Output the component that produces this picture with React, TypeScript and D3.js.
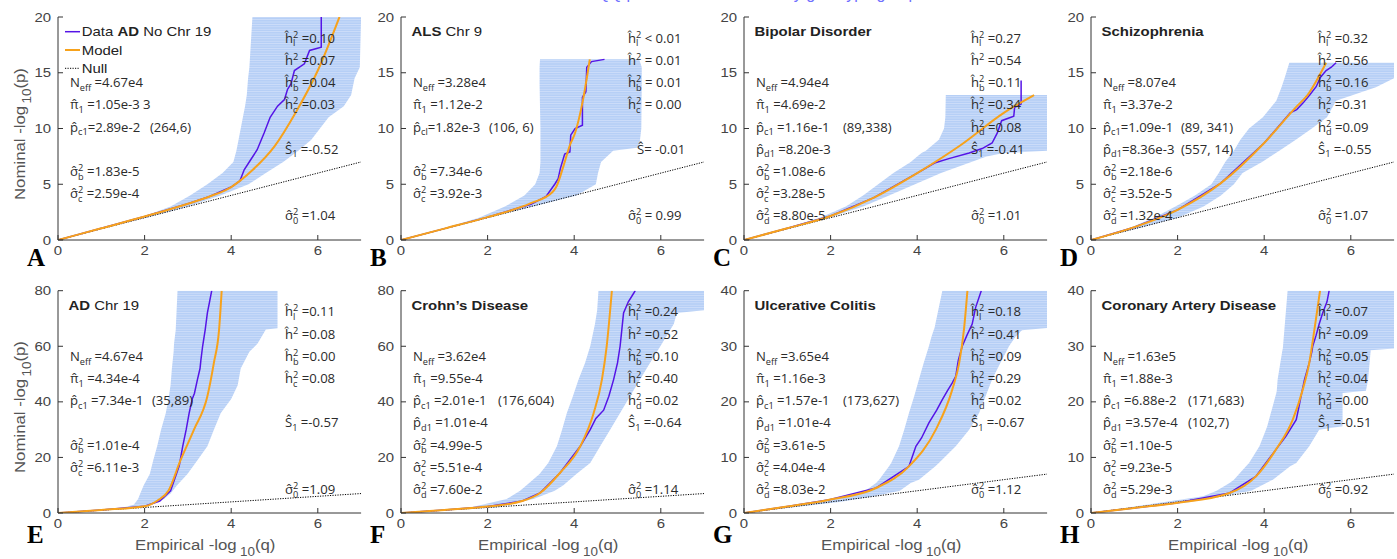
import React from 'react';
import * as d3 from 'd3';

// band rows: [y, left x, right x]; lines: [x, y]
const bandA = [[0,0,0],[1,0.95,1.0],[2,1.9,2.05],[3,2.6,3.0],[4,3.05,3.75],[5,3.45,4.4],[6,3.8,4.8],[7,4.05,5.2],[8,4.12,5.55],[9,4.17,5.85],[10,4.22,6.05],[11,4.27,6.25],[12,4.32,6.6],[13,4.36,6.77],[14.5,4.39,6.85],[15.5,4.42,6.97],[20,4.49,7]];
const dataA = [[0,0],[1,1.05],[2,2.1],[3,3.25],[3.5,3.9],[4,4.75],[4.2,5.3],[4.3,6.3],[4.45,7.2],[4.6,8.1],[4.76,9.6],[4.9,11],[5.07,12],[5.23,12.6],[5.3,13.5],[5.38,14],[5.46,15.2],[5.69,15.8],[5.81,17],[6.08,17.3],[6.08,21]];
const modelA = [[0,0],[1,1.05],[2,2.1],[3,3.25],[3.5,3.9],[4,4.75],[4.2,5.3],[4.5,6.3],[5,8.4],[5.5,11.5],[6,15.2],[6.5,20]];

const bandB = [[0,0,0],[1,0.95,1.02],[2,1.8,2.02],[3,2.4,3.05],[4,2.85,4.05],[5,3.1,4.5],[6,3.2,4.55],[7,3.22,4.62],[8,3.22,4.9],[8.3,3.22,5.5],[10,3.22,5.55],[14,3.2,5.56],[15.5,3.2,5.56],[16.2,3.21,5.5]];
const dataB = [[0,0],[1,1.02],[2,2.05],[3,3.2],[3.35,3.9],[3.55,5.0],[3.63,5.5],[3.68,6.4],[3.78,7.7],[3.9,7.9],[3.92,9.4],[4.02,10.0],[4.19,10.3],[4.19,12.8],[4.27,13.3],[4.29,15.5],[4.4,16.0],[4.7,16.2]];
const modelB = [[0,0],[1,1.02],[2,2.05],[3,3.3],[3.5,4.3],[3.59,4.8],[3.75,6.6],[3.9,8.5],[4.02,9.6],[4.2,12.5],[4.36,16.2]];

const bandC = [[0,0,0],[1,0.92,1.0],[2,1.75,1.95],[3,2.35,2.75],[4,2.75,3.35],[5,3.1,3.95],[6,3.45,4.55],[7,3.85,5.25],[7.5,4.0,5.6],[7.8,4.1,6.0],[8,4.2,7],[9,4.5,7],[10,4.62,7],[11,4.65,7],[13,4.66,7]];
const dataC = [[0,0],[1,1.05],[2,2.15],[3,3.8],[4,6.0],[4.4,6.9],[4.73,7.3],[5.2,7.8],[5.5,8.2],[5.73,8.7],[5.85,9.6],[5.95,10.7],[6.23,11.1],[6.25,11.9],[6.4,12.2],[6.4,14.3]];
const modelC = [[0,0],[1,1.05],[2,2.15],[3,3.8],[4,6.0],[5,8.5],[6,11.4],[6.7,13.0]];

const bandD = [[0,0,0],[1,0.85,1.05],[2,1.45,2.0],[3,1.95,2.6],[4,2.4,3.0],[5,2.78,3.3],[6,2.95,3.5],[7,3.1,3.95],[8,3.3,4.35],[9,3.45,4.73],[10,3.65,5.1],[11,3.97,5.45],[12.5,4.28,5.66],[13.7,4.4,6.58],[14.5,4.47,7],[15.9,4.58,7]];
const dataD = [[0,0],[1,1.15],[2,2.7],[3,5.1],[4,8.7],[4.6,11.4],[4.75,11.7],[4.9,12.3],[5.05,13],[5.2,13.75],[5.3,14.6],[5.43,15.2],[5.55,15.5],[5.66,15.9]];
const modelD = [[0,0],[1,1.15],[2,2.7],[3,5.1],[4,8.7],[4.73,11.9],[5,13.0],[5.43,15.9]];

const bandE = [[0,0,0],[2,1.5,1.95],[3,1.75,2.15],[5,1.85,2.45],[7,1.9,2.6],[10,1.98,2.75],[14,2.12,2.99],[19,2.2,3.22],[24,2.29,3.45],[30,2.38,3.6],[36,2.49,3.76],[41,2.55,4.0],[46,2.6,4.15],[52,2.63,4.22],[58,2.67,4.42],[61,2.68,4.61],[66,2.72,4.8],[66.5,2.72,5.07],[80,2.76,5.07]];
const dataE = [[0,0],[1,1.1],[2,2.4],[2.35,4.3],[2.6,8],[2.8,17],[2.88,24],[2.96,30],[3.03,36],[3.1,41],[3.15,43],[3.22,48],[3.28,52],[3.3,55],[3.34,60],[3.4,66],[3.45,72],[3.5,76],[3.55,80]];
const modelE = [[0,0],[1,1.1],[2,2.4],[2.3,4.5],[2.55,8],[2.83,19],[3.14,30],[3.45,42],[3.6,54],[3.72,66],[3.78,80]];

const bandF = [[0,0,0],[2,1.6,2.2],[5,2.44,3.06],[8,2.75,3.55],[10,2.9,3.75],[14,3.2,4.05],[18,3.4,4.37],[24,3.6,4.6],[30,3.72,4.83],[36,3.83,5.06],[42,3.97,5.29],[48,4.1,5.52],[54,4.25,5.75],[60,4.37,5.99],[68,4.48,6.3],[72,4.52,6.37],[73,4.53,7],[80,4.56,7]];
const dataF = [[0,0],[1,1.1],[2,2.3],[2.8,4.3],[3.21,7.2],[3.67,14.4],[4.14,24],[4.37,30],[4.5,34],[4.68,37],[4.8,42],[4.91,48],[5.0,54],[5.06,60],[5.1,66],[5.14,72],[5.25,76],[5.37,79],[5.41,80]];
const modelF = [[0,0],[1,1.1],[2,2.3],[2.8,4.3],[3.21,7.2],[3.67,14.4],[4.14,24],[4.45,36],[4.64,48],[4.75,60],[4.87,80]];

const bandG = [[0,0,0],[2,1.7,2.2],[3,2.43,3.0],[4,2.8,3.6],[5.4,3.05,3.85],[6,3.12,4.04],[8.4,3.35,4.42],[9,3.4,4.5],[12,3.58,4.89],[15,3.7,5.2],[18,3.81,5.43],[21,3.93,5.58],[24,4.04,5.73],[27,4.15,5.92],[30,4.27,6.12],[31.7,4.33,6.27],[32.9,4.38,6.42],[33.3,4.4,7],[40,4.58,7]];
const dataG = [[0,0],[1,1.15],[1.97,2.4],[3.05,4.5],[3.81,8.4],[3.97,12],[4.1,13.5],[4.27,16.2],[4.45,18.5],[4.58,20.4],[4.7,22],[4.81,23.4],[4.89,24.6],[4.95,27.5],[5.04,30],[5.15,32],[5.27,34],[5.35,37],[5.48,40]];
const modelG = [[0,0],[1,1.15],[1.97,2.4],[3.05,4.5],[3.81,8.4],[4.43,15],[4.81,22.2],[4.97,27],[5.08,33],[5.16,40]];

const bandH = [[0,0,0],[2,1.7,2.3],[3,2.59,3.0],[4,2.9,3.7],[5.4,3.2,4.05],[6,3.3,4.2],[8.4,3.58,4.6],[9,3.65,4.74],[12,3.89,5.04],[15,4.04,5.27],[15.6,4.07,5.81],[21.6,4.28,5.81],[22,4.29,6.35],[24,4.31,6.4],[29.3,4.42,6.46],[29.6,4.43,7],[40,4.54,7]];
const dataH = [[0,0],[1,0.92],[1.97,1.8],[3.2,3.6],[3.81,6.6],[4.27,11.4],[4.5,13.8],[4.74,16.8],[4.8,19],[4.85,21],[4.93,24],[5.04,27],[5.1,29],[5.12,30],[5.2,32],[5.27,34],[5.35,36],[5.45,38],[5.5,40]];
const modelH = [[0,0],[1,0.92],[1.97,1.8],[3.2,3.6],[3.81,6.6],[4.27,11.4],[4.66,16.8],[4.89,22.2],[5.04,27],[5.16,33],[5.29,40]];

const nullLine = [[0,0],[7,7]];

const panelIds = ['A','B','C','D','E','F','G','H'];
const yMaxes = [20,20,20,20,80,80,40,40];
const yTicksTop = [0,5,10,15,20];
const yTicksEF = [0,20,40,60,80];
const yTicksGH = [0,10,20,30,40];
const xTicks = [0,2,4,6];
const titles = [['',''],['ALS',' Chr 9'],['Bipolar Disorder',''],['Schizophrenia',''],['AD',' Chr 19'],['Crohn\u2019s Disease',''],['Ulcerative Colitis',''],['Coronary Artery Disease','']];

const H = 'h\u0302', PI = '\u03c0\u0302', P = 'p\u0302', SG = '\u03c3\u0302', S = '\u015c';
// [column (0 left,1 right), row, base, sup, sub, rest, paren, dx]
const annA = [[1,0,H,'2','l',' =0.10'],[1,1,H,'2','',' =0.07'],[1,2,H,'2','b',' =0.04'],[1,3,H,'2','c',' =0.03'],[1,5,S,'','1',' =-0.52'],[1,8,SG,'2','0',' =1.04'],
  [0,2,'N','','eff',' =4.67e4'],[0,3,PI,'','1',' =1.05e-3 3'],[0,4,P,'','c1','=2.89e-2','(264,6)'],[0,6,SG,'2','b',' =1.83e-5'],[0,7,SG,'2','c',' =2.59e-4']];
const annB = [[1,0,H,'2','l',' < 0.01'],[1,1,H,'2','',' = 0.01'],[1,2,H,'2','b',' = 0.01'],[1,3,H,'2','c',' = 0.00'],[1,5,S,'','','= -0.01','',9],[1,8,SG,'2','0',' = 0.99'],
  [0,2,'N','','eff',' =3.28e4'],[0,3,PI,'','1',' =1.12e-2'],[0,4,P,'','cl','=1.82e-3','(106, 6)'],[0,6,SG,'2','b',' =7.34e-6'],[0,7,SG,'2','c',' =3.92e-3']];
const annC = [[1,0,H,'2','l',' =0.27'],[1,1,H,'2','',' =0.54'],[1,2,H,'2','b',' =0.11'],[1,3,H,'2','c',' =0.34'],[1,4,H,'2','d',' =0.08'],[1,5,S,'','1',' =-0.41'],[1,8,SG,'2','0',' =1.01'],
  [0,2,'N','','eff',' =4.94e4'],[0,3,PI,'','1',' =4.69e-2'],[0,4,P,'','c1',' =1.16e-1','(89,338)'],[0,5,P,'','d1',' =8.20e-3'],[0,6,SG,'2','b',' =1.08e-6'],[0,7,SG,'2','c',' =3.28e-5'],[0,8,SG,'2','d',' =8.80e-5']];
const annD = [[1,0,H,'2','l',' =0.32'],[1,1,H,'2','',' =0.56'],[1,2,H,'2','b',' =0.16'],[1,3,H,'2','c',' =0.31'],[1,4,H,'2','d',' =0.09'],[1,5,S,'','1',' =-0.55'],[1,8,SG,'2','0',' =1.07'],
  [0,2,'N','','eff',' =8.07e4'],[0,3,PI,'','1',' =3.37e-2'],[0,4,P,'','c1','=1.09e-1','(89, 341)'],[0,5,P,'','d1','=8.36e-3','(557, 14)'],[0,6,SG,'2','b',' =2.18e-6'],[0,7,SG,'2','c',' =3.52e-5'],[0,8,SG,'2','d',' =1.32e-4']];
const annE = [[1,0,H,'2','l',' =0.11'],[1,1,H,'2','',' =0.08'],[1,2,H,'2','b',' =0.00'],[1,3,H,'2','c',' =0.08'],[1,5,S,'','1',' =-0.57'],[1,8,SG,'2','0',' =1.09'],
  [0,2,'N','','eff',' =4.67e4'],[0,3,PI,'','1',' =4.34e-4'],[0,4,P,'','c1',' =7.34e-1','(35,89)'],[0,6,SG,'2','b',' =1.01e-4'],[0,7,SG,'2','c',' =6.11e-3']];
const annF = [[1,0,H,'2','l',' =0.24'],[1,1,H,'2','',' =0.52'],[1,2,H,'2','b',' =0.10'],[1,3,H,'2','c',' =0.40'],[1,4,H,'2','d',' =0.02'],[1,5,S,'','1',' =-0.64'],[1,8,SG,'2','0',' =1.14'],
  [0,2,'N','','eff',' =3.62e4'],[0,3,PI,'','1',' =9.55e-4'],[0,4,P,'','c1',' =2.01e-1','(176,604)'],[0,5,P,'','d1',' =1.01e-4'],[0,6,SG,'2','b',' =4.99e-5'],[0,7,SG,'2','c',' =5.51e-4'],[0,8,SG,'2','d',' =7.60e-2']];
const annG = [[1,0,H,'2','l',' =0.18'],[1,1,H,'2','',' =0.41'],[1,2,H,'2','b',' =0.09'],[1,3,H,'2','c',' =0.29'],[1,4,H,'2','d',' =0.02'],[1,5,S,'','1',' =-0.67'],[1,8,SG,'2','0',' =1.12'],
  [0,2,'N','','eff',' =3.65e4'],[0,3,PI,'','1',' =1.16e-3'],[0,4,P,'','c1',' =1.57e-1','(173,627)'],[0,5,P,'','d1',' =1.01e-4'],[0,6,SG,'2','b',' =3.61e-5'],[0,7,SG,'2','c',' =4.04e-4'],[0,8,SG,'2','d',' =8.03e-2']];
const annH = [[1,0,H,'2','l',' =0.07'],[1,1,H,'2','',' =0.09'],[1,2,H,'2','b',' =0.05'],[1,3,H,'2','c',' =0.04'],[1,4,H,'2','d',' =0.00'],[1,5,S,'','1',' =-0.51'],[1,8,SG,'2','0',' =0.92'],
  [0,2,'N','','eff',' =1.63e5'],[0,3,PI,'','1',' =1.88e-3'],[0,4,P,'','c1',' =6.88e-2','(171,683)'],[0,5,P,'','d1',' =3.57e-4','(102,7)'],[0,6,SG,'2','b',' =1.10e-5'],[0,7,SG,'2','c',' =9.23e-5'],[0,8,SG,'2','d',' =5.29e-3']];

const bands = [bandA, bandB, bandC, bandD, bandE, bandF, bandG, bandH];
const datas = [dataA, dataB, dataC, dataD, dataE, dataF, dataG, dataH];
const models = [modelA, modelB, modelC, modelD, modelE, modelF, modelG, modelH];
const anns = [annA, annB, annC, annD, annE, annF, annG, annH];

// layout
const COL_X0 = [58, 401, 744, 1091];
const ROWS = [{ top: 17, bottom: 240 }, { top: 290.7, bottom: 513 }];
const UNIT = 43.3;
const PAREN_DX = [92, 88, 99, 90, 94, 97, 99, 97];
const SANS = 'Liberation Sans, Arial, sans-serif';
const ANN_FONT = 'Open Sans, sans-serif';
const ANN_SIZE = 12.5;
const SX = 1.15;

const CW: Record<string, number> = { '2': 0.57, '0': 0.57, '1': 0.57, l: 0.26, b: 0.61, c: 0.48, d: 0.61, e: 0.56, f: 0.32 };

function Ann({ x, y, base, sup, sub, rest }: any) {
  const s = ANN_SIZE * 0.7;
  const w = (t: string) => t.split('').reduce((a, c) => a + (CW[c] ?? 0.56), 0) * s;
  const supW = w(sup), subW = w(sub);
  const up = ANN_SIZE * 0.4, down = ANN_SIZE * 0.3;
  const parts: any[] = [<tspan key="b">{base}</tspan>];
  let off = 0;
  if (sup) { parts.push(<tspan key="p" fontSize={s} dy={-up}>{sup}</tspan>); off = -up; }
  if (sub) { parts.push(<tspan key="s" fontSize={s} dx={sup ? -supW : 0} dy={down - off}>{sub}</tspan>); off = down; }
  const extra = sup && sub ? Math.max(0, supW - subW) : 0;
  parts.push(<tspan key="r" dx={extra} dy={-off}>{rest}</tspan>);
  return (
    <text transform={`translate(${x},${y}) scale(1.05,1)`} fontFamily={ANN_FONT} fontSize={ANN_SIZE} fill="#2b2b2b">{parts}</text>
  );
}

function Panel({ i }: { i: number }) {
  const col = i % 4, row = Math.floor(i / 4);
  const { top, bottom } = ROWS[row];
  const x0 = COL_X0[col];
  const x = d3.scaleLinear().domain([0, 7]).range([x0, x0 + 7 * UNIT]);
  const y = d3.scaleLinear().domain([0, yMaxes[i]]).range([bottom, top]);
  const yTicks = row === 0 ? yTicksTop : (i < 6 ? yTicksEF : yTicksGH);
  const line = d3.line<number[]>().x(d => x(d[0])).y(d => y(d[1]));
  const smooth = d3.line<number[]>().x(d => x(d[0])).y(d => y(d[1])).curve(d3.curveMonotoneX);
  const area = d3.area<number[]>().y(d => y(d[0])).x0(d => x(d[1])).x1(d => x(d[2]));
  const id = panelIds[i];
  const rowY = (r: number) => top + 25.7 + 22.2 * r;
  const [tb, tn] = titles[i];
  return (
    <g>
      <clipPath id={`clip-${id}`}>
        <rect x={x0} y={top} width={7 * UNIT} height={bottom - top} />
      </clipPath>
      <g clipPath={`url(#clip-${id})`}>
        <path d={area(bands[i]) || ''} fill="url(#bandFill)" />
        <path d={line(nullLine) || ''} fill="none" stroke="#000" strokeWidth={1} strokeDasharray="1.2 1.3" />
        <path d={line(datas[i]) || ''} fill="none" stroke="#5514e6" strokeWidth={1.5} />
        <path d={smooth(models[i]) || ''} fill="none" stroke="#f7a21b" strokeWidth={2} />
      </g>
      {/* axes */}
      <line x1={x0} x2={x0} y1={top} y2={bottom} stroke="#333" strokeWidth={1} />
      <line x1={x0} x2={x0 + 7 * UNIT} y1={bottom} y2={bottom} stroke="#333" strokeWidth={1} />
      {yTicks.map(t => (
        <g key={`y${t}`}>
          <line x1={x0} x2={x0 + 5} y1={y(t)} y2={y(t)} stroke="#333" />
          <text transform={`translate(${x0 - 7},${y(t) + 4.5}) scale(${SX},1)`} textAnchor="end" fontFamily={SANS} fontSize={13} fill="#444">{t}</text>
        </g>
      ))}
      {xTicks.map(t => (
        <g key={`x${t}`}>
          <line x1={x(t)} x2={x(t)} y1={bottom} y2={bottom - 5} stroke="#333" />
          <text transform={`translate(${x(t)},${bottom + 15}) scale(${SX},1)`} textAnchor="middle" fontFamily={SANS} fontSize={13} fill="#444">{t}</text>
        </g>
      ))}
      {/* panel letter */}
      <text x={x0 - 31} y={row === 0 ? 266 : 543} fontFamily="Liberation Serif, serif" fontWeight="bold" fontSize={25} fill="#000">{id}</text>
      {(tb || tn) && (
        <text transform={`translate(${x0 + 10.5},${top + 18.8}) scale(${SX},1)`} fontFamily={SANS} fontSize={13} fill="#222">
          <tspan fontWeight="bold">{tb}</tspan><tspan>{tn}</tspan>
        </text>
      )}
      {anns[i].map((a: any, k: number) => {
        const [c, r, base, sup, sub, rest, paren, dx] = a;
        const ax = x0 + (c === 0 ? 12 : 227) + (dx || 0);
        return (
          <g key={k}>
            <Ann x={ax} y={rowY(r)} base={base} sup={sup} sub={sub} rest={rest} />
            {paren && (
              <text transform={`translate(${x0 + PAREN_DX[i]},${rowY(r)}) scale(1.05,1)`} fontFamily={ANN_FONT} fontSize={ANN_SIZE} fill="#2b2b2b">{paren}</text>
            )}
          </g>
        );
      })}
      {row === 1 && (
        <text transform={`translate(${x0 + 77},550) scale(1.12,1)`} fontFamily={SANS} fontSize={15} fill="#555">
          Empirical -log<tspan dx={3} dy={6} fontSize={12}>10</tspan><tspan dy={-6}>(q)</tspan>
        </text>
      )}
      {col === 0 && (
        <text transform={`translate(24.5,${bottom - 40}) rotate(-90) scale(1.12,1)`} fontFamily={SANS} fontSize={15} fill="#555">
          Nominal -log<tspan dx={2} dy={6} fontSize={12}>10</tspan><tspan dy={-6}>(p)</tspan>
        </text>
      )}
    </g>
  );
}

function Legend() {
  const items = [
    { label: ['Data ', 'AD', ' No Chr 19'], color: '#5514e6', w: 1.5, dash: '' },
    { label: ['Model', '', ''], color: '#f7a21b', w: 2, dash: '' },
    { label: ['Null', '', ''], color: '#000', w: 1, dash: '1.2 1.3' },
  ];
  return (
    <g>
      {items.map((it, k) => (
        <g key={k}>
          <line x1={65} x2={80} y1={31.7 + 18.3 * k} y2={31.7 + 18.3 * k} stroke={it.color} strokeWidth={it.w} strokeDasharray={it.dash || undefined} />
          <text transform={`translate(81.7,${36.3 + 18.3 * k}) scale(${SX},1)`} fontFamily={SANS} fontSize={13} fill="#222">
            <tspan>{it.label[0]}</tspan><tspan fontWeight="bold">{it.label[1]}</tspan><tspan>{it.label[2]}</tspan>
          </text>
        </g>
      ))}
    </g>
  );
}

export default function App() {
  return (
    <div>
      <style>{'body{margin:0}'}</style>
      <svg width={1397} height={559} style={{ display: 'block', background: '#fff' }}>
        <defs>
          <pattern id="bandFill" width={8} height={2.4} patternUnits="userSpaceOnUse">
            <rect width={8} height={2.4} fill="#b6cff6" />
            <rect width={8} height={0.7} fill="#d2e1fa" />
          </pattern>
        </defs>
        <text x={715} y={-1} textAnchor="middle" fontFamily={SANS} fontSize={16} fill="#6f6fff">Conditional QQ plots with fitted model by genotype group</text>
        {panelIds.map((_, i) => <Panel key={i} i={i} />)}
        <Legend />
      </svg>
    </div>
  );
}
